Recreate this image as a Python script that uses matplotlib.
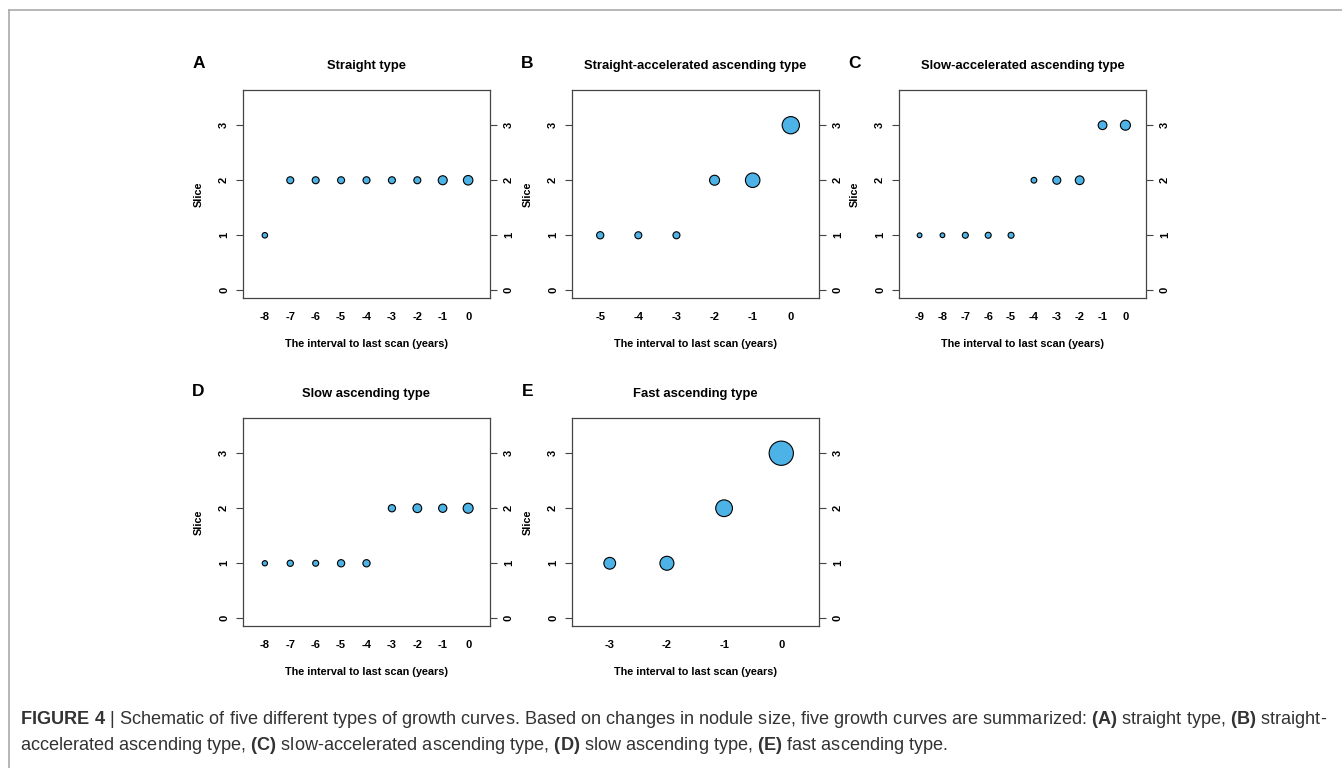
import numpy as np
import matplotlib.pyplot as plt
from matplotlib.lines import Line2D

plt.rcParams['font.family'] = ['Liberation Sans', 'DejaVu Sans']
plt.rcParams['mathtext.fontset'] = 'custom'
plt.rcParams['mathtext.rm'] = 'Liberation Sans'
plt.rcParams['mathtext.bf'] = 'Liberation Sans:bold'
plt.rcParams['axes.unicode_minus'] = False

## growth curve data: years before last scan, slice count, relative nodule size
years_a = [-8, -7, -6, -5, -4, -3, -2, -1, 0]
slice_a = [1, 2, 2, 2, 2, 2, 2, 2, 2]
size_a = [1.1, 1.4, 1.4, 1.4, 1.4, 1.4, 1.4, 1.8, 1.9]

years_b = [-5, -4, -3, -2, -1, 0]
slice_b = [1, 1, 1, 2, 2, 3]
size_b = [1.45, 1.4, 1.4, 2.0, 2.9, 3.45]

years_c = [-9, -8, -7, -6, -5, -4, -3, -2, -1, 0]
slice_c = [1, 1, 1, 1, 1, 2, 2, 2, 3, 3]
size_c = [0.95, 0.95, 1.2, 1.2, 1.2, 1.15, 1.6, 1.75, 1.75, 2.0]

years_d = [-8, -7, -6, -5, -4, -3, -2, -1, 0]
slice_d = [1, 1, 1, 1, 1, 2, 2, 2, 2]
size_d = [1.05, 1.25, 1.2, 1.45, 1.45, 1.45, 1.75, 1.65, 2.0]

years_e = [-3, -2, -1, 0]
slice_e = [1, 1, 2, 3]
size_e = [2.35, 2.8, 3.35, 4.85]

letters = ['A', 'B', 'C', 'D', 'E']
titles = ['Straight type', 'Straight-accelerated ascending type',
          'Slow-accelerated ascending type', 'Slow ascending type',
          'Fast ascending type']
panels = [(years_a, slice_a, size_a), (years_b, slice_b, size_b),
          (years_c, slice_c, size_c), (years_d, slice_d, size_d),
          (years_e, slice_e, size_e)]

W, H = 1342, 768
fig = plt.figure(figsize=(W / 100, H / 100), dpi=100)

# panel boxes in pixels: left, top
boxes = [(243, 90), (572, 90), (899, 90), (243, 418), (572, 418)]
bw, bh = 247, 208

point_col = '#4DB3E6'
frame_col = '#444444'


def r_lim(lo, hi):
    # R style 4% padding
    pad = (hi - lo) * 0.04
    return lo - pad, hi + pad


for (x0, y0), letter, title, (yrs, sl, sz) in zip(boxes, letters, titles, panels):
    ax = fig.add_axes([x0 / W, 1 - (y0 + bh) / H, bw / W, bh / H])
    d = np.array(sz) * 5 * 0.72
    ax.scatter(yrs, sl, s=d ** 2, facecolor=point_col, edgecolor='black',
               linewidth=0.8, zorder=3)
    ax.set_xlim(*r_lim(min(yrs) - 0.5, 0.5))
    ax.set_ylim(*r_lim(0, 3.5))
    ax.set_xticks(yrs)
    ax.set_yticks([0, 1, 2, 3])
    ax.tick_params(axis='x', length=0, pad=10, labelsize=8)
    ax.tick_params(axis='y', length=5, width=0.8, color=frame_col, pad=5,
                   labelsize=8, right=True, labelright=True,
                   labelrotation=90)
    for lab in ax.get_xticklabels() + ax.get_yticklabels():
        lab.set_fontweight('bold')
    for lab in ax.get_yticklabels():
        lab.set_va('center')
    for sp in ax.spines.values():
        sp.set_color(frame_col)
        sp.set_linewidth(0.9)

    ax.set_ylabel('Slice', fontsize=7.8, fontweight='bold')
    ax.yaxis.set_label_coords(-0.16, 0.5)
    ax.set_xlabel('The interval to last scan (years)', fontsize=7.8,
                  fontweight='bold')
    ax.xaxis.set_label_coords(0.5, -0.195)
    ax.set_title(title, fontsize=9.4, fontweight='bold', pad=15)
    ax.text(-0.18, 1 + 26 / bh, letter, transform=ax.transAxes,
            fontsize=12.5, fontweight='bold', ha='center', va='center')

# caption
cap1 = (r'$\mathbf{FIGURE\ 4}$ | Schematic of five different types of growth curves. '
        r'Based on changes in nodule size, five growth curves are summarized: '
        r'$\mathbf{(A)}$ straight type, $\mathbf{(B)}$ straight-')
cap2 = (r'accelerated ascending type, $\mathbf{(C)}$ slow-accelerated ascending type, '
        r'$\mathbf{(D)}$ slow ascending type, $\mathbf{(E)}$ fast ascending type.')
fig.text(20 / W, 1 - 720 / H, cap1, fontsize=13.1, color='#333333', va='center')
fig.text(20 / W, 1 - 745 / H, cap2, fontsize=13.1, color='#333333', va='center')

# open frame around the figure
fig.add_artist(Line2D([9 / W, 1], [1 - 10 / H, 1 - 10 / H], color='#aaaaaa',
                      linewidth=1.2, transform=fig.transFigure))
fig.add_artist(Line2D([9 / W, 9 / W], [0, 1 - 10 / H], color='#aaaaaa',
                      linewidth=1.2, transform=fig.transFigure))

fig.savefig('out.png', dpi=100)
